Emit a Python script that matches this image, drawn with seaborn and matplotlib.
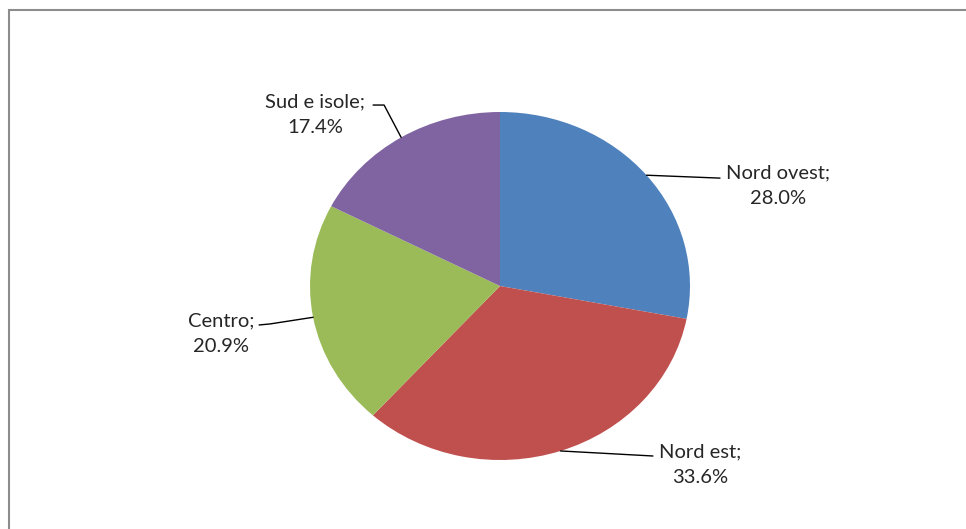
import numpy as np
import matplotlib
matplotlib.use("Agg")
import matplotlib.pyplot as plt
import seaborn as sns

# Data
regions = ["Nord ovest", "Nord est", "Centro", "Sud e isole"]
shares = [28.0, 33.6, 20.9, 17.4]
colors = ["#4F81BD", "#C0504D", "#9BBB59", "#8064A2"]

# label text position (data coords of the pie axes) and leader elbow, per slice
label_pos = [(1.463, 0.578), (1.053, -1.029), (-1.468, -0.273), (-0.974, 0.986)]
elbows = [(1.158, 0.62), (0.805, -0.977), (-1.21, -0.218), (-0.61, 1.04)]
line_ends = [(1.158, 0.62), (0.805, -0.977), (-1.268, -0.224), (-0.668, 1.04)]

sns.set_theme(style="white")
plt.rcParams["font.family"] = ["Lato", "DejaVu Sans"]

fig = plt.figure(figsize=(9.66, 5.29), dpi=100)

# outer chart border (cropped at right and bottom)
border = plt.Rectangle((9 / 966, -0.05), 1.2, 1 - 10 / 529 + 0.05,
                       transform=fig.transFigure, fill=False,
                       edgecolor="#8c8c8c", linewidth=1.5)
fig.patches.append(border)

ax = fig.add_axes([310 / 966, 69 / 529, 380 / 966, 348 / 529])
wedges, _ = ax.pie(shares, colors=colors, startangle=90, counterclock=False,
                   wedgeprops=dict(linewidth=0, edgecolor="none"))
ax.set_aspect("auto")
ax.set_xlim(-1, 1)
ax.set_ylim(-1, 1)
ax.axis("off")

for w, name, val, (tx, ty), (ex, ey), (lx, ly) in zip(
        wedges, regions, shares, label_pos, elbows, line_ends):
    mid = np.deg2rad((w.theta1 + w.theta2) / 2)
    ax_x, ax_y = np.cos(mid), np.sin(mid)
    ax.plot([ax_x, ex, lx], [ax_y, ey, ly], color="black", linewidth=1,
            clip_on=False)
    ax.text(tx, ty, f"{name};\n{val:.1f}%", ha="center", va="center",
            fontsize=14.5, color="#262626", linespacing=1.6, clip_on=False)

fig.savefig("out.png", dpi=100)
